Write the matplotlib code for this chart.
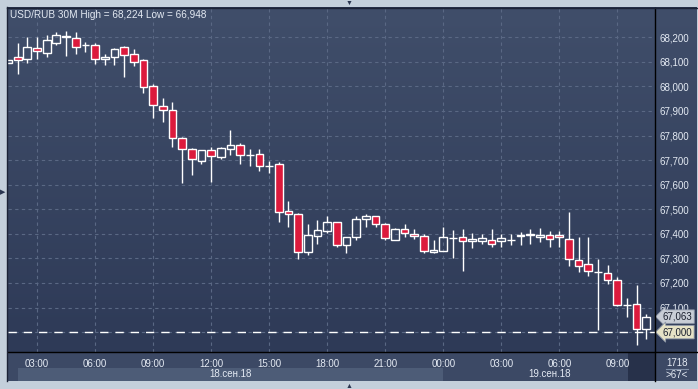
import numpy as np
import matplotlib.pyplot as plt
from matplotlib.patches import Rectangle
from matplotlib.lines import Line2D
import matplotlib.transforms as mtransforms

plt.rcParams['font.family'] = ['Liberation Sans', 'DejaVu Sans']

# candle index 0 = 18 Sep 03:00, one step = 30 minutes
idx = list(range(-3, 64))
opens = [68.097, 68.119, 68.110, 68.155, 68.137, 68.178, 68.204, 68.196, 68.169, 68.167,
         68.110, 68.119, 68.159, 68.131, 68.106, 68.000, 67.919, 67.904, 67.789, 67.746,
         67.698, 67.740, 67.714, 67.746, 67.760, 67.722, 67.724, 67.677, 67.683, 67.493,
         67.479, 67.325, 67.392, 67.411, 67.447, 67.356, 67.386, 67.459, 67.471, 67.439,
         67.375, 67.418, 67.398, 67.390, 67.327, 67.329, 67.383, 67.386, 67.369, 67.369,
         67.373, 67.372, 67.376, 67.391, 67.394, 67.386, 67.395, 67.395, 67.378, 67.292,
         67.276, 67.246, 67.239, 67.211, 67.110, 67.113, 67.011]
highs = [68.108, 68.176, 68.200, 68.200, 68.209, 68.220, 68.224, 68.222, 68.181, 68.177,
         68.132, 68.158, 68.166, 68.152, 68.112, 68.010, 67.952, 67.937, 67.794, 67.749,
         67.741, 67.752, 67.755, 67.822, 67.771, 67.747, 67.745, 67.697, 67.692, 67.533,
         67.483, 67.440, 67.456, 67.472, 67.448, 67.386, 67.471, 67.481, 67.473, 67.442,
         67.425, 67.440, 67.418, 67.398, 67.375, 67.426, 67.415, 67.419, 67.404, 67.398,
         67.418, 67.398, 67.398, 67.407, 67.418, 67.425, 67.413, 67.412, 67.489, 67.387,
         67.387, 67.297, 67.273, 67.223, 67.137, 67.191, 67.073]
lows = [68.095, 68.049, 68.097, 68.112, 68.121, 68.169, 68.125, 68.133, 68.140, 68.090,
        68.087, 68.087, 68.040, 68.083, 67.974, 67.873, 67.856, 67.755, 67.608, 67.639,
        67.684, 67.611, 67.704, 67.721, 67.684, 67.677, 67.657, 67.649, 67.449, 67.429,
        67.299, 67.315, 67.358, 67.404, 67.345, 67.323, 67.374, 67.429, 67.429, 67.375,
        67.375, 67.389, 67.380, 67.321, 67.323, 67.329, 67.303, 67.250, 67.343, 67.357,
        67.345, 67.345, 67.353, 67.356, 67.360, 67.368, 67.347, 67.347, 67.270, 67.246,
        67.229, 67.007, 67.197, 67.107, 67.062, 66.948, 66.973]
closes = [68.106, 68.106, 68.159, 68.145, 68.188, 68.208, 68.203, 68.162, 68.168, 68.110,
          68.119, 68.152, 68.127, 68.101, 67.996, 67.923, 67.903, 67.789, 67.746, 67.703,
          67.740, 67.717, 67.748, 67.760, 67.720, 67.721, 67.675, 67.676, 67.487, 67.479,
          67.325, 67.395, 67.414, 67.447, 67.356, 67.386, 67.459, 67.471, 67.439, 67.382,
          67.418, 67.402, 67.390, 67.331, 67.334, 67.386, 67.383, 67.371, 67.377, 67.382,
          67.360, 67.382, 67.376, 67.396, 67.399, 67.394, 67.378, 67.386, 67.296, 67.268,
          67.247, 67.245, 67.211, 67.109, 67.109, 67.011, 67.063]

time_ticks = [0, 6, 12, 18, 24, 30, 36, 42, 48, 54, 60]
time_labels = ['03:00', '06:00', '09:00', '12:00', '15:00', '18:00',
               '21:00', '00:00', '03:00', '06:00', '09:00']
price_ticks = [67.1, 67.2, 67.3, 67.4, 67.5, 67.6, 67.7, 67.8, 67.9, 68.0, 68.1, 68.2]
last_price = 67.063
level_price = 67.000

W, H = 698, 389
RED = '#dc1a3c'
TXT = '#e4eaf3'


def fx(px):
    return px / W


def fy(py):
    return 1 - py / H


fig = plt.figure(figsize=(W / 100, H / 100), dpi=100, facecolor='#c4cfdb')

# dark outer panel
fig.patches.append(Rectangle((fx(7), fy(381)), (697 - 7) / W, (381 - 7) / H,
                             transform=fig.transFigure, fc='#26304a', ec='none', zorder=0))

# time scale strip
fig.patches.append(Rectangle((fx(8), fy(381)), (697 - 8) / W, (381 - 352) / H,
                             transform=fig.transFigure, fc='#3c4965', ec='none', zorder=1))
fig.patches.append(Rectangle((fx(18), fy(381)), (443 - 18) / W, (381 - 368) / H,
                             transform=fig.transFigure, fc='#4d5c77', ec='none', zorder=1))
fig.patches.append(Rectangle((fx(628), fy(381)), (655 - 628) / W, (381 - 352) / H,
                             transform=fig.transFigure, fc='#27314a', ec='none', zorder=1))

# gradient background behind plot and price scale
bg = fig.add_axes([fx(8), fy(352), (697 - 8) / W, (352 - 8) / H])
bg.set_zorder(2)
grad = np.linspace(0, 1, 256).reshape(-1, 1)
top_c = np.array([0x40, 0x4e, 0x6a]) / 255
bot_c = np.array([0x2e, 0x3a, 0x57]) / 255
img = top_c * (1 - grad[..., None]) + bot_c * grad[..., None]
bg.imshow(img, aspect='auto', extent=[0, 1, 0, 1])
bg.set_axis_off()

ax = fig.add_axes([fx(8), fy(352), (655 - 8) / W, (352 - 8) / H])
ax.set_zorder(3)
ax.patch.set_alpha(0)
ax.set_xlim(-3.0, 63.9)
ax.set_ylim(66.919, 68.319)

# grid
for p in price_ticks + [67.0]:
    ax.axhline(p, color='#5a6884', lw=0.8, ls=(0, (3, 3)), zorder=1)
for t in time_ticks:
    ax.axvline(t, color='#5a6884', lw=0.8, ls=(0, (3, 3)), zorder=1)

# level line
ax.axhline(level_price, color='white', lw=1.0, ls=(0, (6, 5)), zorder=2)

o = np.array(opens)
c = np.array(closes)
h = np.array(highs)
l = np.array(lows)
x = np.array(idx)
up = c >= o
body_top = np.maximum(o, c)
body_bot = np.minimum(o, c)

ax.vlines(x, body_top, h, color='white', lw=1.0, zorder=3)
ax.vlines(x, l, body_bot, color='white', lw=1.0, zorder=3)
ax.bar(x[up], (body_top - body_bot)[up], bottom=body_bot[up], width=0.8,
       facecolor='none', edgecolor='white', lw=1.0, zorder=4)
ax.bar(x[~up], (body_top - body_bot)[~up], bottom=body_bot[~up], width=0.8,
       facecolor=RED, edgecolor='white', lw=1.0, zorder=4)

# axes and ticks
for s in ax.spines.values():
    s.set_visible(False)
ax.yaxis.tick_right()
ax.set_yticks(price_ticks)
ax.set_yticklabels([f'{p:,.3f}'.replace('.', ',') for p in price_ticks])
ax.tick_params(axis='y', length=0, pad=3, labelsize=7, labelcolor=TXT)
ax.set_xticks(time_ticks)
ax.set_xticklabels(time_labels)
ax.tick_params(axis='x', length=0, pad=5, labelsize=7, labelcolor=TXT)

# separators
for xs, ys, col in [([655, 655], [8, 381], 'black'), ([8, 697], [352, 352], 'black'),
                    ([7.5, 7.5], [7, 381], '#1c2236'), ([7, 697], [7.5, 7.5], '#1c2236')]:
    fig.add_artist(Line2D([fx(v) for v in xs], [fy(v) for v in ys], color=col, lw=1.0, zorder=5))

# price tags
trans = mtransforms.blended_transform_factory(ax.transAxes, ax.transData)
ax.text(1.012, last_price, '67,063', transform=trans, fontsize=7, color='#1a1f2e',
        va='center', ha='left', clip_on=False, zorder=6,
        bbox=dict(boxstyle='larrow,pad=0.18', fc='#c8cdd6', ec='#8e97a8', lw=0.6))
ax.text(1.012, level_price, '67,000', transform=trans, fontsize=7, color='#1a1f2e',
        va='center', ha='left', clip_on=False, zorder=6,
        bbox=dict(boxstyle='larrow,pad=0.18', fc='#e6e2c6', ec='#8e97a8', lw=0.6))

# dates
fig.text(fx(230), fy(374), '18.сен.18', fontsize=7, color=TXT, ha='center', va='center', zorder=5)
fig.text(fx(550), fy(374), '19.сен.18', fontsize=7, color=TXT, ha='center', va='center', zorder=5)

# bottom right counter
fig.text(fx(677), fy(363), '1718', fontsize=7, color=TXT, ha='center', va='center', zorder=5)
fig.add_artist(Line2D([fx(666), fx(688)], [fy(368.5), fy(368.5)], color='#8090a8', lw=0.8, zorder=5))
fig.text(fx(677), fy(375), '>67<', fontsize=7, color=TXT, ha='center', va='center', zorder=5)

# title
fig.text(fx(10), fy(15), 'USD/RUB 30M High = 68,224 Low = 66,948', fontsize=7.2,
         color=TXT, ha='left', va='center', zorder=5)

# frame arrows
fig.text(fx(349), fy(3), '▼', fontsize=5, color='#2a3550', ha='center', va='center')
fig.text(fx(349), fy(386), '▲', fontsize=5, color='#2a3550', ha='center', va='center')
fig.text(fx(3), fy(193), '▶', fontsize=5, color='#2a3550', ha='center', va='center')

fig.savefig('out.png', dpi=100, facecolor=fig.get_facecolor())
